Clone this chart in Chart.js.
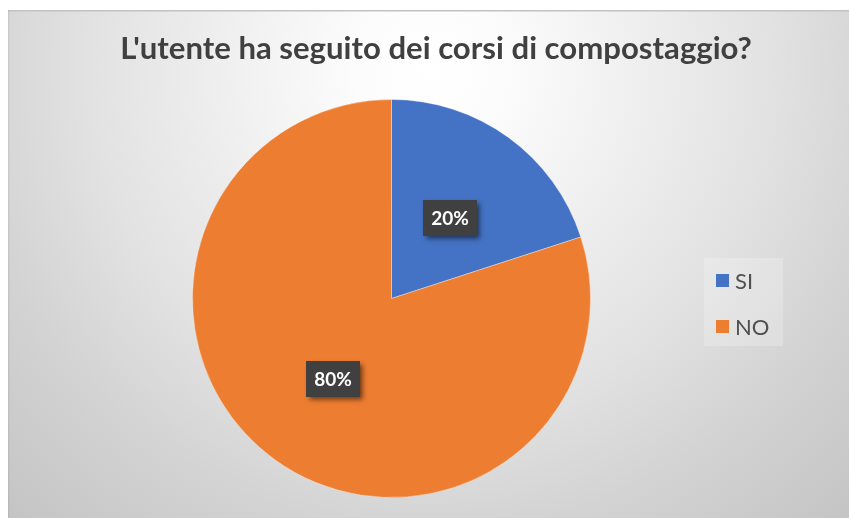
<!DOCTYPE html>
<html>
<head>
<meta charset="utf-8">
<script src="https://cdn.jsdelivr.net/npm/chart.js@4/dist/chart.umd.min.js"></script>
<style>
  html, body { margin: 0; padding: 0; background: #ffffff; }
  #c { display: block; }
</style>
</head>
<body>
<canvas id="c" width="849" height="518"></canvas>
<script>
const titleText = "L'utente ha seguito dei corsi di compostaggio?";
const categories = ['SI', 'NO'];
const values = [20, 80];
const percentLabels = ['20%', '80%'];
const sliceColors = ['#4472C4', '#ED7D31'];

const bgPlugin = {
  id: 'bgPlugin',
  beforeDraw(chart) {
    const ctx = chart.ctx;
    const W = chart.width, H = chart.height;
    ctx.save();
    ctx.fillStyle = '#ffffff';
    ctx.fillRect(0, 0, W, H);
    const g = ctx.createRadialGradient(430, 70, 0, 430, 70, 620);
    g.addColorStop(0, '#ffffff');
    g.addColorStop(0.12, '#fcfcfc');
    g.addColorStop(0.55, '#e2e2e2');
    g.addColorStop(0.75, '#d3d3d3');
    g.addColorStop(1, '#c4c4c4');
    ctx.fillStyle = g;
    ctx.fillRect(8, 10, W - 8, H - 10);
    ctx.fillStyle = '#c2c2c2';
    ctx.fillRect(8, 10, W - 8, 1.5);
    ctx.fillStyle = 'rgba(0,0,0,0.06)';
    ctx.fillRect(8, 10, 1.5, H - 10);
    // title
    ctx.fillStyle = '#404040';
    let size = 30;
    ctx.font = 'bold ' + size + 'px Lato, "Open Sans", sans-serif';
    const w = ctx.measureText(titleText).width;
    size = size * 632 / w;
    ctx.font = 'bold ' + size.toFixed(2) + 'px Lato, "Open Sans", sans-serif';
    ctx.textAlign = 'center';
    ctx.textBaseline = 'alphabetic';
    ctx.fillText(titleText, 436, 59);
    ctx.restore();
  },
  afterDraw(chart) {
    const ctx = chart.ctx;
    ctx.save();
    // data labels
    const meta = chart.getDatasetMeta(0);
    meta.data.forEach((arc, i) => {
      const p = arc.getCenterPoint();
      const bw = 54, bh = 36;
      ctx.save();
      ctx.shadowColor = 'rgba(0,0,0,0.55)';
      ctx.shadowBlur = 5;
      ctx.shadowOffsetX = 3;
      ctx.shadowOffsetY = 3;
      ctx.fillStyle = '#404040';
      ctx.fillRect(p.x - bw / 2, p.y - bh / 2, bw, bh);
      ctx.restore();
      ctx.fillStyle = '#ffffff';
      ctx.font = 'bold 19px Lato, "Open Sans", sans-serif';
      ctx.textAlign = 'center';
      ctx.textBaseline = 'middle';
      ctx.fillText(percentLabels[i], p.x, p.y + 1);
    });
    // legend
    ctx.fillStyle = 'rgba(255,255,255,0.22)';
    ctx.fillRect(704, 258, 79, 88);
    const rows = [280.5, 326.5];
    chart.data.labels.forEach((lab, i) => {
      const y = rows[i];
      ctx.fillStyle = sliceColors[i];
      ctx.fillRect(716, y - 6.5, 13, 13);
      ctx.fillStyle = '#505050';
      ctx.font = '22px Lato, "Open Sans", sans-serif';
      ctx.textAlign = 'left';
      ctx.textBaseline = 'middle';
      ctx.fillText(lab, 735, y + 1);
    });
    ctx.restore();
  }
};

new Chart(document.getElementById('c'), {
  type: 'pie',
  data: {
    labels: categories,
    datasets: [{
      data: values,
      backgroundColor: sliceColors,
      borderColor: 'rgba(255,255,255,0.35)',
      borderWidth: 1
    }]
  },
  options: {
    responsive: false,
    devicePixelRatio: 1,
    animation: false,
    rotation: 0,
    layout: { padding: { left: 192, right: 258, top: 99, bottom: 20 } },
    plugins: {
      legend: { display: false },
      title: { display: false },
      tooltip: { enabled: false }
    }
  },
  plugins: [bgPlugin]
});
</script>
</body>
</html>
